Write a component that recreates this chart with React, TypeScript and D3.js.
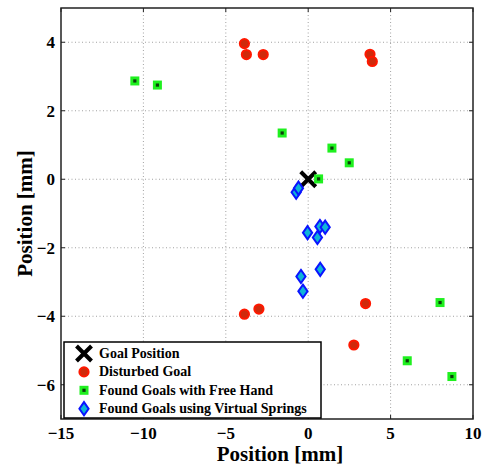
import { scaleLinear } from "d3";

const width = 485;
const height = 468;
const MARGIN = { top: 8, right: 12, bottom: 49, left: 61 };
const boundsWidth = width - MARGIN.left - MARGIN.right;
const boundsHeight = height - MARGIN.top - MARGIN.bottom;

// data (mm)
const xTicks = [-15, -10, -5, 0, 5, 10];
const yTicks = [-6, -4, -2, 0, 2, 4];
const goalX = [0];
const goalY = [0];
const disturbedX = [-3.87, -3.75, -2.73, 3.75, 3.89, -3.87, -2.99, 3.48, 2.77];
const disturbedY = [3.96, 3.64, 3.64, 3.65, 3.44, -3.94, -3.79, -3.63, -4.84];
const freeHandX = [-10.52, -9.15, -1.58, 1.44, 2.49, 0.63, 8.0, 6.01, 8.72];
const freeHandY = [2.87, 2.75, 1.35, 0.91, 0.48, 0.01, -3.6, -5.3, -5.76];
const springsX = [-0.73, -0.59, -0.04, 0.71, 1.03, 0.56, 0.73, -0.44, -0.32];
const springsY = [-0.38, -0.26, -1.56, -1.38, -1.4, -1.7, -2.63, -2.84, -3.27];
const legendLabels = [
  "Goal Position",
  "Disturbed Goal",
  "Found Goals with Free Hand",
  "Found Goals using Virtual Springs",
];

const FONT = "'Liberation Serif', 'Times New Roman', serif";

function Cross({ x, y }: { x: number; y: number }) {
  const s = 7.5;
  return (
    <g stroke="#000" strokeWidth={4}>
      <line x1={x - s} y1={y - s} x2={x + s} y2={y + s} />
      <line x1={x - s} y1={y + s} x2={x + s} y2={y - s} />
    </g>
  );
}

function Dot({ x, y }: { x: number; y: number }) {
  return <circle cx={x} cy={y} r={4.6} fill="#cf2a0c" stroke="#ff1800" strokeWidth={2} />;
}

function Square({ x, y }: { x: number; y: number }) {
  return (
    <g>
      <rect x={x - 4.5} y={y - 4.5} width={9} height={9} fill="#1ff01f" />
      <rect x={x - 1.6} y={y - 1.6} width={3.2} height={3.2} fill="#0b3d0b" />
    </g>
  );
}

function Diamond({ x, y }: { x: number; y: number }) {
  const w = 4.6;
  const h = 6.6;
  return (
    <path
      d={`M${x},${y - h}L${x + w},${y}L${x},${y + h}L${x - w},${y}Z`}
      fill="#0fb4d8"
      stroke="#0a14ff"
      strokeWidth={2}
    />
  );
}

export default function App() {
  const xScale = scaleLinear().domain([-15, 10]).range([0, boundsWidth]);
  const yScale = scaleLinear().domain([-7, 5]).range([boundsHeight, 0]);
  const fmt = xScale.tickFormat();

  const legendRows = [Cross, Dot, Square, Diamond];

  return (
    <div style={{ position: "fixed", left: 0, top: 0 }}>
      <svg width={width} height={height} style={{ display: "block", fontFamily: FONT }}>
        <rect width={width} height={height} fill="#fff" />
        <g transform={`translate(${MARGIN.left},${MARGIN.top})`}>
          {/* grid */}
          {xTicks.slice(1, -1).map((t) => (
            <line key={"gx" + t} x1={xScale(t)} x2={xScale(t)} y1={0} y2={boundsHeight}
              stroke="#8a8a8a" strokeWidth={0.8} strokeDasharray="1,2.5" />
          ))}
          {yTicks.map((t) => (
            <line key={"gy" + t} x1={0} x2={boundsWidth} y1={yScale(t)} y2={yScale(t)}
              stroke="#8a8a8a" strokeWidth={0.8} strokeDasharray="1,2.5" />
          ))}

          {/* data */}
          {goalX.map((d, i) => <Cross key={"g" + i} x={xScale(d)} y={yScale(goalY[i])} />)}
          {disturbedX.map((d, i) => <Dot key={"d" + i} x={xScale(d)} y={yScale(disturbedY[i])} />)}
          {freeHandX.map((d, i) => <Square key={"f" + i} x={xScale(d)} y={yScale(freeHandY[i])} />)}
          {springsX.map((d, i) => <Diamond key={"s" + i} x={xScale(d)} y={yScale(springsY[i])} />)}

          {/* ticks */}
          {xTicks.map((t) => (
            <g key={"tx" + t} stroke="#222" strokeWidth={1}>
              <line x1={xScale(t)} x2={xScale(t)} y1={boundsHeight} y2={boundsHeight - 4} />
              <line x1={xScale(t)} x2={xScale(t)} y1={0} y2={4} />
            </g>
          ))}
          {yTicks.map((t) => (
            <g key={"ty" + t} stroke="#222" strokeWidth={1}>
              <line x1={0} x2={4} y1={yScale(t)} y2={yScale(t)} />
              <line x1={boundsWidth} x2={boundsWidth - 4} y1={yScale(t)} y2={yScale(t)} />
            </g>
          ))}
          <rect x={0} y={0} width={boundsWidth} height={boundsHeight} fill="none" stroke="#222" strokeWidth={1.5} />

          {/* tick labels */}
          {xTicks.map((t) => (
            <text key={"lx" + t} x={xScale(t)} y={boundsHeight + 19.5} textAnchor="middle"
              fontSize={17} fontWeight="bold">{fmt(t)}</text>
          ))}
          {yTicks.map((t) => (
            <text key={"ly" + t} x={-6} y={yScale(t)} dy="0.35em" textAnchor="end"
              fontSize={17} fontWeight="bold">{fmt(t)}</text>
          ))}

          {/* legend */}
          <g transform="translate(3,334)">
            <rect x={0} y={0} width={257} height={76} fill="#fff" stroke="#000" strokeWidth={1.5} />
            {legendLabels.map((label, i) => {
              const Marker = legendRows[i];
              const cy = 11.5 + i * 18.4;
              return (
                <g key={label}>
                  <Marker x={20} y={cy} />
                  <text x={35} y={cy + 4.5} fontSize={14} fontWeight="bold">{label}</text>
                </g>
              );
            })}
          </g>
        </g>

        {/* axis titles */}
        <text x={280} y={460.5} textAnchor="middle" fontSize={21} fontWeight="bold">Position [mm]</text>
        <text transform={`translate(31.5,${MARGIN.top + boundsHeight / 2}) rotate(-90)`}
          textAnchor="middle" fontSize={21} fontWeight="bold">Position [mm]</text>
      </svg>
    </div>
  );
}
